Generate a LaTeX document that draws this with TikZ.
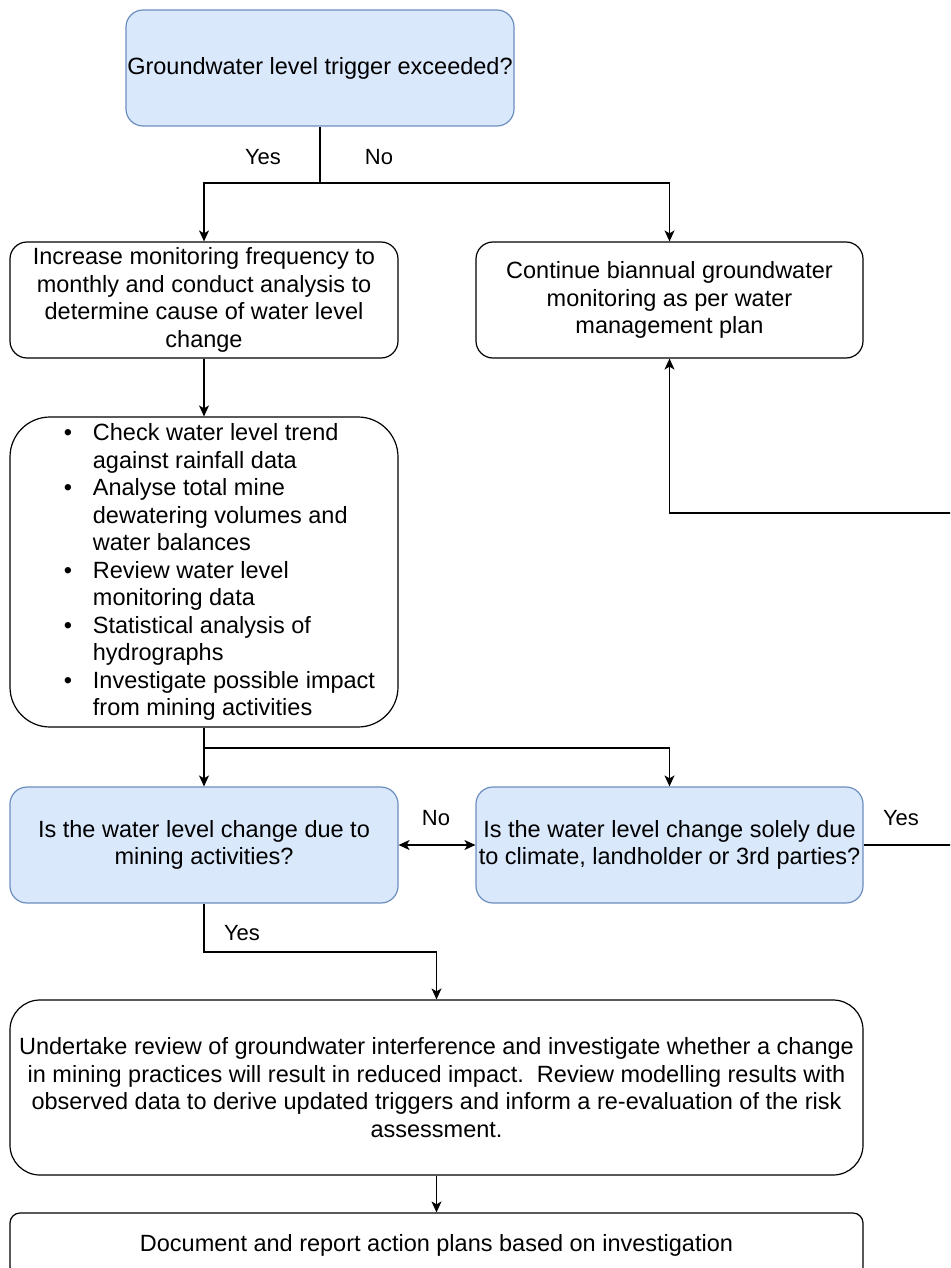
\documentclass[tikz,border=0pt]{standalone}
\usepackage{fontspec}
\setmainfont{Liberation Sans}
\usetikzlibrary{arrows.meta}
\definecolor{qfill}{HTML}{DAE8FC}
\definecolor{qdraw}{HTML}{6C8EBF}
\newcommand{\bl}{\hspace*{31pt}\makebox[29pt][l]{\textbullet}}
\newcommand{\cl}{\hspace*{60pt}}
\frenchspacing
\begin{document}
\begin{tikzpicture}[x=1pt,y=-1pt,
  box/.style={draw=black, line width=1.2pt, rounded corners=17pt, fill=white,
    inner xsep=0pt, inner ysep=0pt, align=center, minimum width=388pt,
    minimum height=116pt, font=\fontsize{23.5}{27.5}\selectfont},
  qbox/.style={box, draw=qdraw, fill=qfill},
  arr/.style={line width=1.2pt, -{Stealth[length=11pt,width=10pt,inset=3pt]}},
  dblarr/.style={line width=1.2pt, {Stealth[length=11pt,width=10pt,inset=3pt]}-{Stealth[length=11pt,width=10pt,inset=3pt]}},
  ln/.style={line width=1.2pt},
  lbl/.style={font=\fontsize{22}{26}\selectfont, inner sep=0pt}]
\useasboundingbox (0,0) rectangle (950,1268);
\clip (0,0) rectangle (950,1268);

\node[qbox] (top) at (320,68) {Groundwater level trigger exceeded?};
\node[box] (inc) at (204,300) {Increase monitoring frequency to\\monthly and conduct analysis to\\determine cause of water level\\change};
\node[box, minimum width=387pt] (cont) at (669.5,300) {Continue biannual groundwater\\monitoring as per water\\management plan};
\node[box, rounded corners=40pt, align=left, minimum height=310pt] (bul) at (204,572) {%
\bl Check water level trend\\
\cl against rainfall data\\
\bl Analyse total mine\\
\cl dewatering volumes and\\
\cl water balances\\
\bl Review water level\\
\cl monitoring data\\
\bl Statistical analysis of\\
\cl hydrographs\\
\bl Investigate possible impact\\
\cl from mining activities};
\node[qbox] (q1) at (204,845) {Is the water level change due to\\mining activities?};
\node[qbox, minimum width=387pt] (q2) at (669.5,845) {Is the water level change solely due\\to climate, landholder or 3rd parties?};
\node[box, rounded corners=30pt, minimum width=853pt, minimum height=175pt] (rev) at (436.5,1087.5) {Undertake review of groundwater interference and investigate whether a change\\in mining practices will result in reduced impact.\ \ Review modelling results with\\observed data to derive updated triggers and inform a re-evaluation of the risk\\assessment.};
\node[box, rounded corners=10pt, minimum width=853pt, minimum height=64pt] (doc) at (436.5,1245) {Document and report action plans based on investigation};

\coordinate (j1) at (320,183);
\coordinate (j2) at (204,748);
\coordinate (j3) at (436.5,952);
\coordinate (r1) at (965,845);
\coordinate (r2) at (965,513);

\draw[ln] (top.south) -- (j1);
\draw[arr] (j1) -| (inc.north);
\draw[arr] (j1) -| (cont.north);
\draw[arr] (inc.south) -- (bul.north);
\draw[arr] (bul.south) -- (q1.north);
\draw[arr] (j2) -| (q2.north);
\draw[dblarr] (q1.east) -- (q2.west);
\draw[arr] (q1.south) |- (j3) -- (rev.north);
\draw[arr] (rev.south) -- (doc.north);
\draw[arr] (q2.east) -- (r1) -- (r2) -| (cont.south);

\node[lbl] (yes1) at (263,157) {Yes};
\node[lbl] (no1) at (379,157) {No};
\node[lbl] (no2) at (436,818) {No};
\node[lbl] (yes2) at (901,818) {Yes};
\node[lbl] (yes3) at (242,933) {Yes};
\end{tikzpicture}
\end{document}
